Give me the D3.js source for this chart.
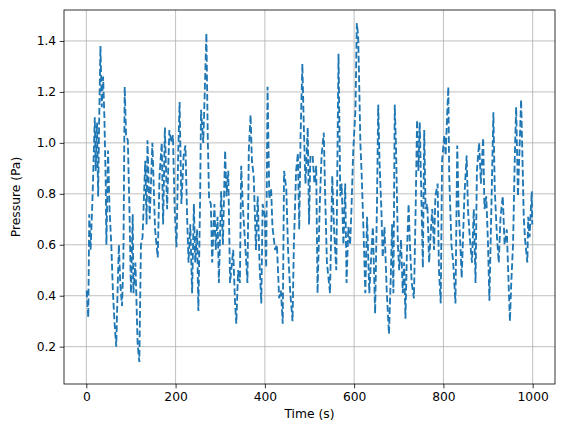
<!DOCTYPE html>
<html><head><meta charset="utf-8">
<script src="https://cdn.jsdelivr.net/npm/d3@7"></script>
<style>body{margin:0;background:#fff}text{font-family:"DejaVu Sans",sans-serif}</style>
</head><body><svg id="c" width="567" height="432"></svg>
<script>
const times = [0.7,4.4,6.6,9.6,14,19,21,24,26.5,28.8,31.7,34.6,37.6,40.5,43.5,45,48.7,52,56,59.7,63.4,67,70.8,73,76,80,83,86,89,93,96.6,100,104,105.5,110,115,118.7,122.4,126,132,135,137,142,148,154,160,164,169,172,176,181,186,191,194,198,202,206,209,213,218,222,226,229,233,237,241,244,248,251,255,257,262,265,269,272,275,279,282,287,290,294,297,302,306,311,314,318,322,
329,333,336,340,344,347,351,356,361,364,368,371,375,380,384,388,392,395,400,403,406,410,414,417,423,427,432,436,440,443,448,452,457,462,465,470,474,477,480,484,487,491,496,499,502,507,511,515,518,523,527,532,535,539,546,551,555,560,565,569,572,576,580,583,587,591,594,598,603,606,609,611,614,617,622,625,629,634,639,642,647,651,654,657,661,664,668,673,678,682,685,688,691,694,698,701,705,709,712,715,718,722,725,729,734,738,741,744,747,750,754,757,760,764,768,772,775,779,782,787,790,794,797,802,805,808,811,813,818,822,827,831,834,838,841,847,852,855,859,864,868,872,875,880,884,889,892,896,900,903,908,912,915,920,924,928,933,937,942,946,949,952,956,960,963,967,971,974,977,980,983,988,990,993,998,999];
const pressures = [0.42,0.315,0.72,0.58,0.79,1.10,0.89,1.08,0.79,1.09,1.38,1.14,1.26,1.10,0.84,0.60,0.97,0.74,0.60,0.41,0.29,0.20,0.47,0.60,0.45,0.36,0.53,1.22,1.03,1.01,0.74,0.41,0.72,0.41,0.53,0.21,0.14,0.60,0.63,0.93,0.68,1.01,0.70,1.0,0.66,0.55,0.87,1.0,0.68,1.06,0.74,1.05,1.0,1.03,0.74,0.59,0.97,1.16,0.76,0.95,0.99,0.70,0.53,0.68,0.41,0.76,0.53,0.66,0.34,0.79,1.13,1.0,1.18,1.43,1.03,0.78,0.76,0.53,0.76,0.58,0.71,0.45,0.81,0.60,0.97,0.79,0.89,0.45,
0.58,0.38,0.29,0.50,0.45,0.91,0.74,0.60,0.45,0.97,1.11,0.93,0.87,0.58,0.79,0.53,0.37,0.76,0.71,0.51,1.22,0.78,0.82,0.67,0.58,0.60,0.39,0.42,0.29,0.89,0.82,0.58,0.41,0.30,0.60,0.89,0.96,0.66,1.03,1.31,1.08,0.84,1.06,0.68,0.95,0.95,0.84,0.91,0.41,0.76,0.95,1.04,0.80,0.53,0.41,0.87,0.66,0.50,1.35,0.79,0.84,0.60,0.84,0.45,0.67,0.60,0.74,0.97,1.13,1.47,1.42,1.26,1.0,0.87,0.60,0.41,0.71,0.41,0.58,0.67,0.33,0.74,1.15,0.92,0.74,0.55,0.67,0.42,0.25,0.47,0.68,0.41,1.15,0.97,0.60,0.50,0.62,0.41,0.53,0.31,0.55,0.76,0.60,0.45,0.39,0.76,1.09,0.89,1.08,0.84,0.51,1.05,0.74,0.76,0.53,0.66,0.74,0.58,0.79,0.84,0.50,0.37,0.93,1.03,0.95,1.09,1.22,0.87,0.60,0.53,0.37,0.99,0.74,0.60,0.47,0.79,0.95,0.74,0.63,0.53,0.74,0.45,0.89,1.0,0.84,1.02,0.74,0.79,0.60,0.38,0.79,1.12,0.82,0.63,0.53,0.71,0.79,0.60,0.66,0.45,0.30,0.45,0.60,0.95,1.14,0.79,1.0,1.17,0.95,0.71,0.62,0.53,0.71,0.63,0.81,0.68];
const xTicks = [0,200,400,600,800,1000];
const yTicks = [0.2,0.4,0.6,0.8,1.0,1.2,1.4];

const svg = d3.select("#c");
const L=64,R=555,T=10,B=384;
const x = d3.scaleLinear().domain([-50,1050]).range([L,R]);
const y = d3.scaleLinear().domain([0.0535,1.5215]).range([B,T]);
const g = svg.append("g");
g.selectAll(".gx").data(xTicks).join("line").attr("x1",d=>x(d)).attr("x2",d=>x(d)).attr("y1",T).attr("y2",B).attr("stroke","#b0b0b0").attr("stroke-width",0.8);
g.selectAll(".gy").data(yTicks).join("line").attr("y1",d=>y(d)).attr("y2",d=>y(d)).attr("x1",L).attr("x2",R).attr("stroke","#b0b0b0").attr("stroke-width",0.8);
const data = times.map((t,i)=>[t,pressures[i]]);
svg.append("path").datum(data).attr("d",d3.line().x(d=>x(d[0])).y(d=>y(d[1])))
  .attr("fill","none").attr("stroke","#1f77b4").attr("stroke-width",1.85).attr("stroke-dasharray","6.8,2.95");
svg.append("rect").attr("x",L).attr("y",T).attr("width",R-L).attr("height",B-T).attr("fill","none").attr("stroke","#000").attr("stroke-width",0.8);
const xa = svg.append("g").attr("transform",`translate(0,${B})`).call(d3.axisBottom(x).tickValues(xTicks).tickFormat(d3.format("d")).tickSize(4.3).tickPadding(3.5));
const ya = svg.append("g").attr("transform",`translate(${L},0)`).call(d3.axisLeft(y).tickValues(yTicks).tickFormat(d3.format(".1f")).tickSize(4.3).tickPadding(3.5));
[xa,ya].forEach(a=>{a.select(".domain").remove();a.selectAll("text").attr("font-size",12.3).attr("fill","#000").attr("font-family","DejaVu Sans");a.selectAll("line").attr("stroke","#000").attr("stroke-width",0.8);});
svg.append("text").attr("x",(L+R)/2).attr("y",418).attr("text-anchor","middle").attr("font-size",12.3).text("Time (s)");
svg.append("text").attr("transform",`translate(20,${(T+B)/2}) rotate(-90)`).attr("text-anchor","middle").attr("font-size",12.3).text("Pressure (Pa)");
</script></body></html>
